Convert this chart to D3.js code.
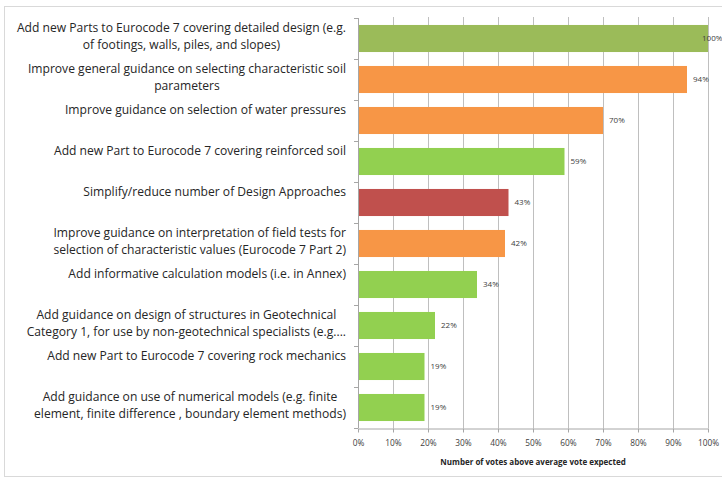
<!DOCTYPE html>
<html>
<head>
<meta charset="utf-8">
<script src="https://cdn.jsdelivr.net/npm/d3@7"></script>
<style>
  html, body { margin: 0; padding: 0; background: #fff; }
  svg { display: block; }
</style>
</head>
<body>
<svg id="chart" width="722" height="477"></svg>
<script>
// Survey items, each given as the lines it is wrapped into
const categories = [
  ["Add new Parts to Eurocode 7 covering detailed design (e.g.", "of footings, walls, piles, and slopes)"],
  ["Improve general guidance on selecting  characteristic soil", "parameters"],
  ["Improve guidance on selection of water pressures"],
  ["Add new Part to Eurocode 7 covering reinforced soil"],
  ["Simplify/reduce number of Design Approaches"],
  ["Improve guidance on interpretation of field tests for", "selection of characteristic values (Eurocode 7 Part 2)"],
  ["Add informative calculation models (i.e. in Annex)"],
  ["Add guidance on design of structures in Geotechnical", "Category 1, for use by non-geotechnical specialists (e.g...."],
  ["Add new Part to Eurocode 7 covering rock mechanics"],
  ["Add guidance on use of numerical models (e.g. finite", "element, finite difference , boundary element methods)"]
];
// Share of votes above the average vote expected (%)
const values = [100, 94, 70, 59, 43, 42, 34, 22, 19, 19];
// Kind of change each item asks for
const groups = ["Extend", "Improve", "Improve", "Add", "Simplify", "Improve", "Add", "Add", "Add", "Add"];
const xTicks = [0, 10, 20, 30, 40, 50, 60, 70, 80, 90, 100];
const xTitle = "Number of votes above average vote expected";

const svg = d3.select("#chart");
const W = 722, H = 477;
const plot = { left: 358, right: 708, top: 18, bottom: 428 };
const font = "'Open Sans', 'DejaVu Sans', sans-serif";

const color = d3.scaleOrdinal()
  .domain(["Extend", "Improve", "Add", "Simplify"])
  .range(["#9bbb59", "#f79646", "#92d050", "#c0504d"]);

const x = d3.scaleLinear().domain([0, 100]).range([plot.left, plot.right]);
const y = d3.scaleBand()
  .domain(d3.range(categories.length))
  .range([plot.top, plot.bottom])
  .paddingInner(0.34)
  .paddingOuter(0.17);

// chart frame
svg.append("rect")
  .attr("x", 4.5).attr("y", 6.5)
  .attr("width", W).attr("height", H - 7)
  .attr("fill", "#fff")
  .attr("stroke", "#d9d9d9");

// vertical gridlines
svg.append("g")
  .selectAll("line")
  .data(xTicks.slice(1))
  .join("line")
  .attr("x1", d => Math.round(x(d)) + 0.5)
  .attr("x2", d => Math.round(x(d)) + 0.5)
  .attr("y1", plot.top - 1)
  .attr("y2", plot.bottom)
  .attr("stroke", "#bfbfbf");

// bars
svg.append("g")
  .selectAll("rect")
  .data(values)
  .join("rect")
  .attr("x", x(0))
  .attr("y", (d, i) => y(i))
  .attr("width", d => x(d) - x(0))
  .attr("height", y.bandwidth())
  .attr("fill", (d, i) => color(groups[i]));

// value labels, kept inside the chart area
svg.append("g")
  .selectAll("text")
  .data(values)
  .join("text")
  .attr("x", d => Math.min(x(d) + 6, W - 20))
  .attr("y", (d, i) => y(i) + y.bandwidth() / 2)
  .attr("dy", "0.35em")
  .attr("font-family", font)
  .attr("font-size", 8)
  .attr("fill", "#404040")
  .text(d => d + "%");

// x axis
const xAxis = svg.append("g")
  .attr("transform", `translate(0,${plot.bottom + 0.5})`)
  .call(d3.axisBottom(x).tickValues(xTicks).tickFormat(d => d + "%").tickSize(4).tickSizeOuter(0));
xAxis.select(".domain").attr("stroke", "#a6a6a6");
xAxis.selectAll(".tick line").attr("stroke", "#a6a6a6");
xAxis.selectAll(".tick text")
  .attr("font-family", font)
  .attr("font-size", 8.3)
  .attr("fill", "#404040")
  .attr("dy", "1.25em");

// y axis: line with ticks at the category boundaries
const yAxis = svg.append("g");
yAxis.append("line")
  .attr("x1", plot.left + 0.5).attr("x2", plot.left + 0.5)
  .attr("y1", plot.top).attr("y2", plot.bottom)
  .attr("stroke", "#a6a6a6");
yAxis.selectAll("line.tick")
  .data(d3.range(categories.length + 1))
  .join("line")
  .attr("class", "tick")
  .attr("x1", plot.left - 4).attr("x2", plot.left)
  .attr("y1", i => Math.round(plot.top + i * y.step()) + 0.5)
  .attr("y2", i => Math.round(plot.top + i * y.step()) + 0.5)
  .attr("stroke", "#a6a6a6");

// category labels: each block right-aligned, lines centred inside it
const labelRight = 346;
const labels = svg.append("g")
  .selectAll("g")
  .data(categories)
  .join("g");
labels.each(function (lines, i) {
  const g = d3.select(this);
  const c = y(i) + y.bandwidth() / 2;
  const texts = g.selectAll("text")
    .data(lines)
    .join("text")
    .attr("y", (d, k) => c - 11 + k * 17.5)
    .attr("dy", "0.35em")
    .attr("text-anchor", "middle")
    .attr("font-family", font)
    .attr("font-size", 12.1)
    .attr("fill", "#262626")
    .text(d => d);
  let w = 0;
  texts.each(function () { w = Math.max(w, this.getComputedTextLength()); });
  texts.attr("x", labelRight - w / 2);
});

// axis title
svg.append("text")
  .attr("x", (plot.left + plot.right) / 2)
  .attr("y", 462)
  .attr("dy", "0.35em")
  .attr("text-anchor", "middle")
  .attr("font-family", font)
  .attr("font-size", 8)
  .attr("font-weight", "bold")
  .attr("fill", "#262626")
  .text(xTitle);
</script>
</body>
</html>
